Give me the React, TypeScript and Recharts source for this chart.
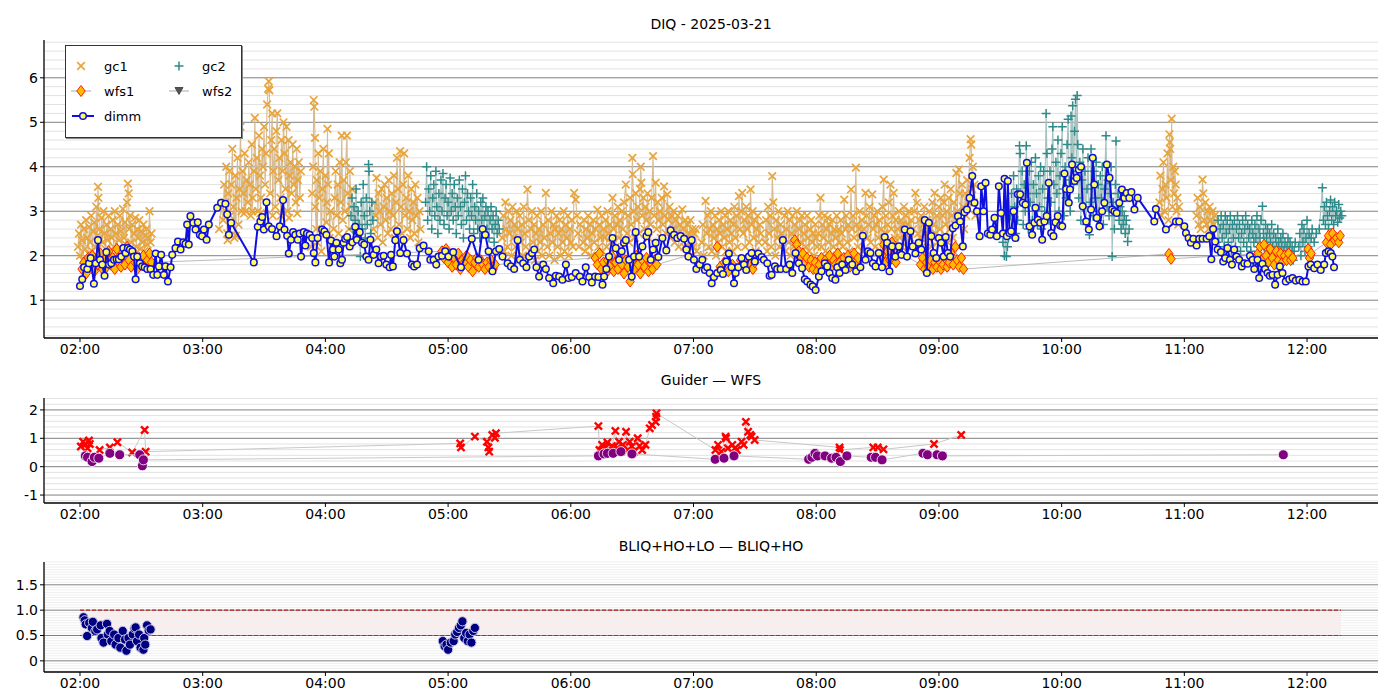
import React from 'react';
import { ScatterChart, Scatter, XAxis, YAxis, ReferenceLine, ReferenceArea } from 'recharts';

// time in minutes after 00:00 UTC, value in arcsec
type Pt = [number, number];

const hourTicks = [120, 180, 240, 300, 360, 420, 480, 540, 600, 660, 720];
const diqTicks = [1, 2, 3, 4, 5, 6];
const gwTicks = [-1, 0, 1, 2];
const bliqTicks = [0, 0.5, 1.0, 1.5];

const gc1: Pt[] = [
  // 02:00 - 02:35
  [119,2.2],[119.5,2.5],[120,2.0],[120.5,2.7],[121,2.35],[121.5,1.9],[122,2.6],[122.5,2.15],[123,2.8],[123.5,2.4],[124,2.05],[124.5,2.65],[125,2.3],[125.5,2.9],[126,2.1],[126.5,2.55],[127,2.75],[127.5,2.2],[128,3.1],[128.5,2.45],[128.8,3.55],[129,3.3],[129.5,2.6],[130,2.0],[130.5,2.85],[131,2.3],[131.5,3.0],[132,2.5],[132.5,2.15],[133,2.7],[133.5,2.35],[134,2.9],[134.5,2.05],[135,2.6],[135.5,2.4],[136,2.8],[136.5,2.2],[137,3.0],[137.5,2.5],[138,2.1],[138.5,2.7],[139,2.35],[139.5,2.9],[140,2.55],[140.5,2.15],[141,3.05],[141.5,2.4],[142,2.75],[142.5,2.25],[143,3.2],[143.4,3.62],[143.8,3.4],[144,2.6],[144.5,2.9],[145,2.3],[145.5,2.7],[146,2.05],[146.5,2.5],[147,2.85],[147.5,2.2],[148,2.6],[148.5,2.4],[149,2.8],[149.5,2.15],[150,2.55],[150.5,2.3],[151,2.7],[151.5,2.1],[152,2.45],[152.5,2.6],[153,2.25],[153.5,2.4],[154,3.0],[154.5,2.3],[155,2.5],
  // 03:08 - 03:48
  [188,2.6],[189,3.1],[190,2.8],[190.5,3.6],[191,3.2],[191.5,4.0],[192,2.5],[192.2,2.35],[192.5,3.4],[193,3.9],[193.5,2.9],[194,3.6],[194.5,4.4],[195,3.1],[195.5,2.4],[196,3.8],[196.2,2.45],[196.5,3.3],[197,4.2],[197.5,2.7],[198,3.5],[198.5,4.9],[199,3.0],[199.5,3.9],[200,3.4],[200.2,2.95],[200.5,4.3],[201,3.0],[201.5,3.7],[202,3.2],[202.5,4.1],[203,3.6],[203.5,2.9],[204,4.5],[204.2,3.0],[204.5,3.3],[205,3.9],[205.5,5.1],[206,3.5],[206.5,4.2],[207,3.0],[207.5,4.7],[208,3.8],[208.2,2.95],[208.5,3.3],[209,4.4],[209.5,4.0],[210,4.9],[210.5,3.6],[211,4.3],[211.5,5.4],[212,5.75],[212.3,5.92],[212.6,5.72],[213,3.4],[213.5,4.6],[214,5.2],[214.2,2.9],[214.5,3.9],[215,4.4],[215.5,3.1],[216,4.8],[216.5,5.2],[217,3.7],[217.5,4.2],[218,3.3],[218.2,2.9],[218.5,4.6],[219,3.9],[219.5,5.0],[220,4.3],[220.5,3.5],[221,4.9],[221.5,3.0],[222,4.6],[222.2,2.85],[222.5,3.8],[223,4.1],[223.5,3.4],[224,4.5],[224.5,3.6],[225,4.0],[225.5,3.2],[226,4.4],[226.2,2.95],[226.5,3.7],[227,4.1],[227.5,3.3],[228,3.9],
  // 03:53 - 04:13
  [233,2.2],[233.5,3.4],[234,4.0],[234.3,5.5],[234.6,5.35],[234.9,4.65],[235,3.1],[235.5,2.6],[235.8,3.7],[236,2.3],[236.5,4.3],[237,3.3],[237.5,3.9],[238,2.1],[238.5,3.5],[239,4.4],[239.5,2.5],[240,3.8],[240.5,2.75],[240.8,3.2],[241,4.85],[241.3,3.6],[241.7,4.3],[242,2.4],[242.5,3.0],
  [244,2.6],[244.5,3.3],[245,3.9],[245.5,2.9],[246,3.6],[246.5,2.5],[247,4.1],[247.5,3.2],[248,4.7],[248.5,2.8],[249,3.7],[249.5,3.0],[250,4.1],[250.5,4.7],[251,3.4],[251.5,2.6],[252,3.9],[252.5,3.1],[253,3.5],
  // 04:23 - 04:47
  [263.5,2.6],[264,3.2],[264.5,2.9],[265,3.75],[265.5,2.4],[266,3.4],[266.5,3.0],[267,2.7],[267.5,3.5],[268,2.3],[268.5,3.1],[269,3.6],[269.5,2.8],[270,3.3],[270.5,2.5],[271,3.7],[271.5,3.0],[272,2.6],[272.5,3.4],[273,2.9],[273.5,3.8],[274,2.4],[274.5,3.2],[275,4.2],[275.5,3.5],[276,2.7],[276.5,4.35],[277,3.1],[277.5,2.5],[278,3.6],[278.5,4.3],[279,2.9],[279.5,3.3],[280,2.6],[280.5,3.8],[281,3.0],[281.5,2.4],[282,3.5],[282.5,2.8],[283,3.2],[283.5,2.5],[284,3.6],[284.5,2.9],[285,3.3],[285.5,2.3],[286,3.0],[286.5,2.6],
  // 05:26 - 06:05
  [326.5,2.4],[327,2.9],[327.5,2.1],[328,3.2],[328.5,2.6],[329,2.2],[329.5,3.0],[330,2.5],[330.5,2.8],[331,2.0],[331.5,3.1],[332,2.4],[332.5,2.7],[333,2.2],[333.5,3.0],[334,2.6],[334.5,1.9],[335,2.9],[335.5,2.3],[336,2.7],[336.5,2.0],[337,3.1],[337.5,2.5],[338,2.2],[338.8,3.49],[339.5,2.8],[340,2.0],[340.5,2.6],[341,3.0],[341.5,2.3],[342,2.7],[342.5,1.9],[343,2.5],[343.5,2.9],[344,2.1],[344.5,2.6],[345,2.3],[345.5,3.0],[346,2.0],[346.5,2.7],[347,2.4],[347.8,3.41],[348.5,2.2],[349,2.8],[349.5,2.0],[350,2.5],[350.5,3.0],[351,2.3],[351.5,2.7],[352,1.9],[352.5,2.6],[353,2.9],[353.5,2.2],[354,2.5],[354.5,2.8],[355,2.0],[355.5,2.6],[356,2.3],[356.5,3.0],[357,2.1],[357.5,2.7],[358,2.4],[358.5,2.9],[359,2.0],[359.5,2.6],[360,2.3],[360.5,2.8],[361,2.2],[361.6,3.41],[362.4,3.26],[363,2.9],[363.5,2.5],[364,2.2],[364.5,2.7],
  // 06:06 - 07:02
  [366,2.3],[366.5,2.8],[367,2.1],[367.5,2.6],[368,2.4],[368.5,2.9],[369,2.2],[369.5,2.7],[370,2.0],[370.5,2.5],[371,2.8],[371.5,2.3],[372,2.6],[373,3.03],[373.5,2.2],[374,2.7],[374.5,2.4],[375,2.9],[375.5,2.1],[376,2.6],[376.5,2.4],[377,2.8],[377.5,2.2],[378,3.0],[378.5,2.5],[379,2.7],[379.5,2.3],[380.4,3.3],[381,2.6],[381.5,2.9],[382,2.2],[382.5,2.7],[383,3.1],[383.5,2.4],[384,2.8],[384.5,2.1],[385,3.0],[385.5,2.6],[386,3.2],[386.9,3.6],[387.5,2.5],[388,2.9],[388.5,2.3],[389,3.3],[389.5,2.7],[390.1,4.2],[390.3,3.83],[390.8,3.0],[391.3,2.4],[391.8,3.4],[392.3,2.8],[392.8,3.1],[393.3,2.5],[393.8,3.5],[394.2,4.0],[394.5,3.64],[395,2.9],[395.5,3.3],[396,2.6],[396.5,3.1],[397,2.8],[397.5,3.4],[398,2.4],[398.5,3.0],[399,2.7],[399.5,3.3],[400.2,4.24],[400.8,2.9],[401.5,3.64],[402,2.6],[402.5,3.2],[403,2.8],[403.5,3.0],[404,2.4],[404.5,3.3],[405,2.7],[405.6,3.56],[406,2.9],[406.5,2.5],[407.2,3.38],[407.8,2.8],[408.3,3.1],[408.8,2.4],[409.3,2.9],[409.8,2.6],[410.3,3.0],[410.8,2.3],[411.3,2.8],[411.8,2.5],[412.3,2.9],[412.8,2.2],[413.3,2.7],[413.8,2.4],[414.5,3.04],[415,2.6],[415.5,2.2],[416,2.8],[416.5,2.4],[417,2.7],[417.5,2.1],[418,2.5],[418.5,2.8],[419,2.3],[419.5,2.6],[420,2.2],[420.5,2.5],[421,2.6],[421.5,2.1],
  // 07:04 - 07:33
  [424,2.3],[424.5,2.7],[425,2.0],[425.9,3.23],[426.5,2.5],[427,2.9],[427.5,2.2],[428,2.6],[428.5,3.0],[429,2.1],[429.5,2.7],[430,2.4],[430.5,2.9],[431,2.0],[431.5,2.6],[432,2.3],[432.5,2.8],[433,2.5],[433.5,3.0],[434,2.2],[434.5,2.7],[435,2.4],[435.5,2.9],[436,2.1],[436.5,2.6],[437,3.0],[437.5,2.3],[438,2.8],[438.5,2.5],[439,2.1],[439.5,2.7],[440,3.1],[440.5,2.4],[441,2.9],[441.5,2.2],[442.2,3.34],[442.8,2.6],[443.3,3.0],[443.8,3.41],[444.3,2.5],[444.8,2.8],[445.3,2.2],[445.8,3.1],[446.3,2.6],[446.8,2.9],[447.3,2.3],[447.9,3.49],[448.4,2.7],[448.9,3.0],[449.4,2.4],[449.9,2.8],[450.4,2.1],[450.9,2.6],[451.4,2.9],[451.9,2.3],[452.4,2.7],[452.9,2.5],
  // 07:35 - 08:01
  [455,2.3],[455.5,2.8],[456,2.1],[456.5,3.1],[457,2.5],[457.5,2.9],[458,2.2],[458.5,3.79],[459,3.2],[459.5,2.6],[460,2.0],[460.5,2.8],[461,2.4],[461.5,3.0],[462,2.2],[462.5,2.7],[463,2.5],
  [464,2.4],[464.5,2.9],[465,2.1],[465.5,2.6],[466,3.0],[466.5,2.3],[467,2.8],[467.5,2.0],[468,2.5],[468.5,2.9],[469,2.2],[469.5,2.7],[470,2.4],[470.5,3.0],[471,2.1],[471.5,2.6],[472,2.8],[472.5,2.3],[473,2.9],[473.5,2.0],[474,2.5],[474.5,2.7],[475,2.2],[475.5,2.9],[476,2.4],[476.5,2.1],[477,2.6],[477.5,2.8],[478,2.3],[478.5,2.5],[479,2.0],[479.5,2.7],[480,2.4],[480.5,2.2],
  // 08:01 - 08:50
  [481,2.5],[481.5,2.9],[482.1,3.3],[482.6,2.2],[483,2.7],[483.5,2.4],[484,2.9],[484.5,2.1],[485,2.6],[485.6,2.85],[486,2.3],[486.5,2.7],[487,2.0],[487.5,2.5],[488,2.8],[488.5,2.2],[489,2.6],[489.5,2.4],[490,2.9],[490.5,2.1],[491,2.6],[491.5,2.3],[492,2.8],[492.5,2.5],[493,2.2],[493.7,3.26],[494.2,2.6],[494.7,2.9],[495.2,2.3],[495.7,2.7],[496.2,2.1],[497,3.49],[497.5,2.6],[498,2.9],[498.5,2.4],[499.4,3.98],[499.8,2.7],[500.3,2.2],[500.8,2.6],[501.3,3.0],[501.8,2.4],[502.3,2.8],[502.8,2.1],[503.3,2.6],[504.1,3.41],[504.6,2.9],[505.1,2.4],[505.6,2.7],[506.1,3.1],[506.6,2.3],[507.4,3.38],[507.9,2.6],[508.4,2.9],[508.9,2.2],[509.4,2.7],[509.9,3.0],[510.4,2.4],[510.9,2.8],[511.4,2.1],[511.9,2.6],[512.4,3.1],[513,3.71],[513.5,2.5],[514,2.9],[514.5,2.3],[515,2.7],[515.5,3.2],[516.3,3.6],[516.8,2.6],[517.3,2.9],[517.9,3.41],[518.4,2.4],[518.9,2.8],[519.4,2.2],[519.9,2.6],[520.4,3.0],[520.9,2.4],[521.4,2.8],[521.9,2.2],[522.4,2.7],[522.9,3.1],[523.4,2.5],[523.9,2.9],[524.4,2.3],[524.9,2.7],[525.4,3.0],[525.9,2.4],[526.4,2.8],[526.9,2.2],[527.4,2.6],[527.9,3.0],[528.5,3.41],[529.3,3.19],[529.8,2.5],[530.3,2.8],
  // 08:50 - 09:18
  [530.8,2.4],[531.3,2.9],[531.8,2.2],[532.3,2.7],[532.8,3.1],[533.3,2.5],[533.8,2.1],[534.3,2.8],[534.8,2.4],[535.3,3.0],[535.8,2.6],[536.3,2.2],[536.8,3.2],[537.3,2.7],[537.9,3.41],[538.4,2.5],[538.9,2.9],[539.4,2.3],[539.9,3.1],[540.4,2.6],[540.9,3.3],[541.4,2.4],[541.9,2.9],[542.4,3.2],[542.8,3.6],[543.3,2.7],[543.8,3.0],[544.3,2.3],[544.8,3.3],[545.3,2.6],[545.8,3.5],[546.3,2.9],[546.8,2.4],[547.3,3.2],[547.8,2.7],[548.5,3.86],[549,3.0],[549.8,3.94],[550.3,3.4],[550.8,2.8],[551.3,3.6],[551.8,3.1],[552.3,2.6],[552.8,3.4],[553.3,2.9],[553.8,3.7],[554.3,3.2],[555,4.2],[555.5,4.62],[555.8,4.5],[556.2,3.5],[556.6,4.0],[557,3.2],[557.4,3.6],[557.8,2.9],
  // 10:48 - 10:58
  [647.8,3.2],[648.3,3.8],[648.8,2.9],[649.3,3.5],[649.8,4.1],[650.3,3.0],[650.8,3.6],[651.3,3.3],[651.8,4.3],[652.3,2.8],[652.7,4.73],[652.9,4.55],[653.1,4.4],[653.4,3.7],[653.8,5.08],[654.2,3.1],[654.6,4.0],[655,3.4],[655.4,3.9],[655.8,3.6],[656.2,3.0],[656.6,3.3],[657,2.7],[657.4,3.1],
  // 11:06 - 11:15
  [666,2.9],[666.5,3.3],[667,2.7],[667.5,3.1],[668,2.6],[668.9,3.71],[669.3,3.4],[669.8,2.8],[670.3,3.2],[670.8,2.7],[671.3,3.0],[671.8,2.6],[672.3,3.1],[672.8,2.8],[673.3,2.6],[673.8,3.0],[674.3,2.7],[674.8,2.9],[675.3,2.6],
];

const gc2: Pt[] = [
  [252.5,2.9],[253,3.3],[253.5,2.6],[254,3.1],[254.5,2.8],[255,3.5],[255.5,2.5],[256,3.0],[256.5,2.7],[257.1,1.98],[257.5,3.2],[258,2.6],[258.5,3.6],[259,2.9],[259.5,2.4],[260,3.3],[260.5,2.7],[261.1,4.05],[261.3,3.9],[261.7,3.0],[262.2,2.5],[262.7,3.2],[263.2,2.8],
  [289,3.2],[289.5,4.0],[290,2.8],[290.5,3.5],[291,3.0],[291.5,3.8],[292,2.6],[292.5,3.3],[293,3.6],[293.5,2.9],[294,3.9],[294.5,3.1],[295,2.5],[295.5,3.4],[296,2.8],[296.5,3.7],[297,3.0],[297.5,3.85],[298,2.7],[298.5,3.3],[299,3.6],[299.5,2.9],[300,3.2],[300.5,2.6],[301,3.75],[301.5,3.0],[302,3.4],[302.5,2.8],[303,3.6],[303.5,3.1],[304,2.5],[304.5,3.3],[305,2.9],[305.5,3.7],[306,3.1],[306.5,2.7],[307,3.5],[307.5,2.4],[308,3.2],[308.5,3.8],[309,2.8],[309.5,3.4],[310,3.0],[310.5,2.6],[311,3.3],[311.5,2.9],[312,3.6],[312.5,2.5],[313,3.1],[313.5,2.8],[314,3.4],[314.5,2.6],[315,3.0],[315.5,2.4],[316,3.2],[316.5,2.8],[317,3.3],[317.5,2.5],[318,2.9],[318.5,3.1],[319,2.6],[319.5,3.0],[320,2.4],[320.5,2.8],[321,3.1],[321.5,2.6],[322,2.9],[322.5,2.3],[323,2.7],[323.5,3.0],[324,2.5],[324.5,2.8],[325,2.6],
  [571.3,2.3],[572,2.0],[572.5,2.5],[573,1.98],[573.5,2.2],[574,2.4],[575,2.9],[575.5,3.4],[576,2.6],[576.5,3.8],[577,3.1],[577.5,2.5],[578,3.5],[578.5,2.8],[579.4,4.47],[579.7,4.3],[580.2,3.2],[580.7,3.9],[581.2,2.7],[581.7,3.6],[582.2,3.0],[582.7,4.47],[583.2,3.4],[583.7,2.6],[584.2,3.9],[584.7,3.2],[585.2,4.1],[585.7,2.8],[586.2,3.6],[586.7,3.0],[587.2,4.2],[587.7,3.4],[588.2,2.7],[588.7,3.8],[589.2,3.1],[589.7,4.0],[590.2,2.6],[590.7,3.5],[591.2,3.9],[591.7,3.0],[592.4,5.2],[592.8,4.3],[593.3,3.3],[593.8,2.8],[594.3,3.9],[594.8,3.2],[595.3,4.4],[595.7,4.9],[596.2,3.6],[596.7,2.7],[597.2,4.1],[597.7,3.4],[598.2,4.6],[598.7,3.0],[599.2,3.8],[599.7,4.3],[600.3,4.9],[600.7,3.5],[601.2,2.9],[601.7,4.0],[602.2,3.3],[602.7,4.5],[603.2,5.07],[603.7,3.7],[604.2,3.0],[604.6,5.14],[605,4.2],[605.4,5.37],[605.8,3.6],[606.3,4.8],[606.8,5.52],[607.2,3.9],[607.6,5.6],[607.9,4.5],[608.4,3.3],[608.9,4.1],[609.4,2.8],[609.9,3.7],[610.4,4.4],[610.9,3.1],[611.4,3.9],[611.9,2.7],[612.4,3.5],[612.9,4.2],[613.6,2.47],[614,3.2],[614.4,4.4],[614.9,3.6],[615.4,2.9],[615.9,3.9],[616.4,3.3],[616.9,4.1],[617.4,2.8],[617.9,3.6],[618.4,3.0],[618.9,3.8],[619.4,3.3],[619.9,4.0],[620.4,2.7],[620.9,3.5],[621.7,4.7],[622.2,3.1],[622.7,3.7],[623.2,2.9],[623.7,3.4],[624.2,4.0],[624.7,1.98],[625.2,3.2],[625.8,2.6],[626.3,3.6],[626.6,4.58],[627.1,3.0],[627.6,3.4],[628.1,2.8],[628.6,3.1],[629.1,2.6],[629.6,3.0],[630.1,2.7],[630.6,2.9],[631.1,2.5],[631.6,2.8],[632.3,2.32],[633,2.6],
  [676,2.3],[676.5,2.8],[677,2.1],[677.5,2.6],[678,2.9],[678.5,2.4],[679,2.7],[679.5,2.2],[680,2.9],[680.5,2.5],[681,2.8],[681.5,2.3],[682,2.6],[682.5,2.9],[683,2.1],[683.5,2.7],[684,2.4],[684.5,2.8],[685,2.2],[685.5,2.6],[686,2.9],[686.5,2.4],[687,2.7],[687.5,2.1],[688,2.5],[688.5,2.8],[689,2.3],[689.5,2.6],[690,2.9],[690.5,2.2],[691,2.7],[691.5,2.4],[692,2.6],[692.5,2.1],[693,2.8],[693.5,2.5],[694,2.3],[694.5,2.7],[695,2.4],[695.5,2.9],[696,2.2],[696.5,2.6],[697,2.4],[697.5,2.8],[698.2,3.11],[698.7,2.5],[699.2,2.2],[699.7,2.7],[700.2,2.4],[700.7,2.6],[701.2,2.1],[701.7,2.5],[702.2,2.3],[702.7,2.7],[703.2,2.2],[703.7,2.5],[704.2,2.0],[704.7,2.4],[705.2,2.2],[705.7,2.6],[706.2,2.3],[706.7,2.0],[707.2,2.4],[707.7,2.2],[708.2,2.5],[708.7,2.1],[709.2,2.3],[709.7,1.95],[710.2,2.2],[710.7,2.4],[711.2,2.1],[711.7,2.3],[712.2,2.0],[712.7,2.2],[713.2,1.9],[713.7,2.1],[714.2,2.3],[716,2.2],[716.5,2.5],[717,2.0],[717.5,2.7],[718,2.3],[718.5,2.6],[719,2.1],[719.5,2.4],[720,2.8],[720.5,2.2],[721,2.5],[721.5,2.0],[722,2.4],[722.5,2.6],[723.5,2.3],[724.5,2.5],[726,2.6],[727.5,3.53],[728,2.8],[728.5,3.1],[729,2.7],[729.5,3.2],[730,2.9],[730.5,2.6],[731,3.0],[731.5,3.25],[732,2.8],[732.5,3.1],[733,2.7],[733.5,3.2],[734,2.9],[734.5,3.0],[735,2.75],[735.5,3.15],[736,2.85],[736.5,3.0],[737,2.9],
];

const wfs1: Pt[] = [
  [121,1.7],[122,1.85],[123,1.6],[124,1.95],[125,1.75],[126,2.0],[127,1.65],[128,1.9],[129,1.8],[130,2.05],[131,1.7],[132,1.9],[133,1.75],[134,2.1],[135,1.8],[136,1.95],[137,1.7],[138,2.15],[139,1.85],[140,1.75],[141,2.0],[142,1.8],[143,2.2],[144,1.9],[145,1.75],[146,2.05],[147,1.85],[148,1.7],[149,1.95],[150,1.8],[151,2.0],[152,1.75],[153,1.9],[154,2.05],[155,1.85],
  [297,2.1],[298,1.95],[299,2.15],[300,1.85],[301,2.0],[302,1.75],[303,1.95],[304,1.8],[305,2.05],[306,1.7],[307,1.9],[308,1.85],[309,2.0],[310,1.75],[311,1.9],[312,1.65],[313,1.85],[314,1.95],[315,1.75],[316,1.9],[317,1.8],[318,1.7],[319,1.85],[320,1.75],[321,1.9],[322,1.7],[323,1.8],
  [372,1.95],[373,1.8],[374,2.05],[375,1.7],[376,1.85],[377,1.6],[378,1.9],[379,1.75],[380,2.0],[381,1.65],[382,1.85],[383,1.7],[384,1.95],[385,1.8],[386,1.6],[387,1.9],[388,1.75],[389,1.42],[390,1.85],[391,1.7],[392,2.0],[393,1.8],[394,1.6],[395,1.9],[396,1.75],[397,1.95],[398,1.65],[399,1.85],[400,1.7],[401,1.9],[402,1.8],
  [431.6,2.2],[433,1.75],[435,1.85],[437,1.65],[439,1.8],[441,1.7],[443,1.9],[445,1.75],[447,1.85],[449,1.7],[450,1.85],
  [469.5,2.35],[470.5,2.25],[471.5,2.1],[472.5,1.95],[473.5,2.05],[474.5,1.85],[475.5,1.95],[476.5,1.75],[477.5,1.9],[478.5,1.7],[479.5,1.85],[480.5,1.65],[481.5,1.8],[482.5,1.95],[483.5,1.7],[484.5,1.9],[485.5,1.8],[486.5,2.0],[487.5,1.75],[488.5,1.9],[489.5,1.8],[490.5,2.05],[491.5,1.85],[492.5,1.7],[493.5,1.95],[494.5,1.8],[495.5,2.0],[496.5,1.75],[497.5,1.9],[498.5,2.05],[499.5,1.85],[500.5,1.95],
  [512,2.0],[513,2.25],[514,1.85],[515,2.1],[516,1.9],[517,2.3],[518,2.0],[519,1.85],[520,2.1],
  [531,1.8],[532,1.95],[533,1.7],[534,1.85],[535,1.75],[536,1.9],[537,1.7],[538,1.85],[539,1.75],[540,1.9],[541,1.7],[542,1.8],[543,1.95],[544,1.75],[545,1.85],[546,2.05],[547,1.8],[548,2.2],[549,1.9],[550,1.75],[551,1.95],[552,1.7],
  [652.5,2.04],[653.5,1.93],
  [696,2.05],[697,2.2],[698,1.9],[699,2.25],[700,2.0],[701,1.85],[702,2.15],[703,1.95],[704,1.8],[705,2.1],[706,1.9],[707,2.05],[708,1.85],[709,2.0],[710,1.9],[711,2.05],[712,1.9],[713,1.95],
  [720.5,2.15],[721.2,1.95],[722,2.05],
  [729.5,2.3],[730.5,2.45],[731.5,2.25],[732.5,2.5],[733.5,2.35],[734.5,2.4],[735.5,2.3],[736.2,2.45],
];

const wfs2: Pt[] = [];

const dimm: Pt[] = [
  [120,1.32],[121.1,1.47],[122,1.74],[123.6,1.7],[124.4,1.83],[125.2,1.95],[126.8,1.37],[127.7,1.83],[128.8,2.35],[129.8,1.91],[130.9,1.8],[132,1.55],[132.9,2.08],[134.2,1.8],[135.3,1.83],[136.6,1.91],[137.9,1.92],[139,1.92],[140.2,1.98],[141.2,2.17],[142.3,2.06],[143.4,2.17],[144.4,2.14],[145.6,2.1],[146.4,1.98],[147.2,1.47],[148,1.98],[149.3,1.83],[150.4,1.76],[151.6,1.74],[152.9,1.7],[154.5,1.7],[155.8,1.57],[157,2.05],[157.8,1.57],[158.6,1.76],[159.7,2.02],[161,1.57],[161.8,1.76],[163,1.42],[164.3,1.74],[165.1,2.02],[166.7,2.17],[167.9,2.32],[169.2,2.14],[170.5,2.3],[171.6,2.27],[172.4,2.7],[173.2,2.25],[174,2.89],[175.4,2.74],[176.5,2.59],[177.6,2.75],[178.6,2.47],[179.7,2.44],[180.6,2.59],[181.9,2.36],[183,2.7],[187.1,3.08],[189,3.19],[191.1,3.17],[192,2.93],[192.8,2.47],[193.9,2.74],[205,1.85],[206.9,2.65],[208.2,2.77],[209.1,2.87],[209.9,2.59],[211.2,3.2],[212.3,2.66],[213.9,2.6],[216.1,2.44],[217.7,2.66],[219.3,3.25],[220,2.59],[221.3,2.45],[222.1,2.05],[223.2,2.36],[224.2,2.53],[225.3,2.47],[226.5,2.36],[227.4,2.5],[228.1,1.98],[229.4,2.53],[230.2,2.23],[231,2.5],[232.3,2.47],[233.5,2.4],[234.3,2.06],[235.1,1.85],[236.2,2.4],[238.4,2.59],[239.5,2.55],[240.5,2.47],[241.8,1.85],[242.8,2.34],[243.7,2.14],[244.4,1.98],[245.4,2.29],[246.5,2.14],[247.3,1.83],[248.1,1.91],[248.9,2.29],[249.7,2.38],[250.6,2.42],[251.9,2.21],[253.2,2.3],[254.6,2.65],[255.4,2.36],[256.8,2.53],[257.9,2.29],[259,2.25],[260,1.98],[261.1,1.91],[262,2.36],[263.6,2.02],[264.9,2.14],[266,1.83],[267.2,1.98],[268.5,2.0],[269.8,1.8],[271.4,1.74],[272.1,2.02],[273,1.76],[274.2,2.35],[275,2.55],[276.6,2.06],[278.2,2.35],[279.9,2.05],[282.3,1.8],[283.4,1.76],[284.8,1.8],[286.1,2.17],[288,2.23],[290.5,2.1],[291.3,1.91],[292.9,1.91],[294.2,1.8],[295.3,1.98],[297,2.0],[298.6,2.1],[300.2,1.98],
  [302.5,2.08],[306.3,1.74],[311.6,2.38],[314.9,1.91],[316.9,2.6],[318.2,2.47],[319.8,2.1],[321.7,1.65],[323.4,2.1],[325,2.15],[326.6,1.98],[329.1,1.83],[330.7,1.76],[332.3,1.7],[334,2.35],[335.1,1.91],[336.7,1.83],[338.3,1.74],[339.6,1.98],[341,2.06],[342.1,2.14],[343.2,1.74],[344.5,1.53],[346.5,1.8],[347.8,1.7],[349.4,1.5],[351.4,1.38],[352.7,1.55],[354.3,1.53],[355.9,1.46],[357.6,1.8],[358.9,1.5],[360.5,1.52],[362.4,1.61],[364.4,1.53],[365.7,1.42],[367.3,1.74],[369,1.52],[370.3,1.4],[371.9,1.53],[373.5,1.52],[375.5,1.35],[376.3,1.53],[377.4,1.7],[378.7,1.98],[380.4,2.4],[382,2.17],[383.6,1.91],[384.9,2.1],[386,2.29],[386.9,2.35],[388.5,1.91],[389.8,1.53],[390.9,1.98],[391.7,2.53],[393.4,1.98],[395,2.21],[397,2.44],[397.9,2.53],[399.1,1.91],[400.2,2.14],[401.5,2.29],[402.8,1.97],[404.8,2.4],[406.7,2.12],[408.8,2.57],[410.5,2.47],[412.1,2.4],[413.7,2.44],[415.4,2.38],[416.5,2.14],[417.5,1.98],[419.1,2.35],[420.2,1.91],[421.4,1.7],[423,1.8],[424.3,1.91],[425.6,1.68],[426.7,1.74],[427.9,1.61],[428.9,1.38],[430,1.52],[431.6,1.61],[433.3,1.68],[434.4,1.59],[436,1.87],[437.3,2.05],[438.6,1.74],[439.8,1.38],[440.6,1.61],[441.9,1.74],[443.5,1.95],[444.7,1.8],[445.8,1.68],[447.1,1.98],[448.4,2.06],[450,1.87],[451.7,2.05],[453.3,1.97],[454.4,1.91],[456.1,1.83],[457.2,1.55],[458.2,1.57],[459.8,1.76],[460.9,1.7],[462.6,1.7],[463.7,2.35],[465.3,1.7],[467,1.8],[468.3,1.61],[469.9,2.06],[471.5,1.83],[473.1,1.72],[474.4,1.47],[475.6,1.42],[477.2,1.35],[478.3,1.31],[479.7,1.23],[481.3,1.53],[482.6,1.65],[484.2,1.83],[485.4,1.76],[486.5,1.61],[487.8,1.5],[489.4,1.46],[490.3,1.74],[491.4,1.61],[492.7,1.8],[494.3,1.68],[495.9,1.91],[497.6,1.8],[499.5,1.65],[501.6,1.74],[502.8,2.45],[504.1,1.91],[505.4,2.1],[506.5,2.06],[507.7,1.83],[509,1.76],[510.6,2.06],[512.2,1.74],[513.5,2.42],[514.7,2.29],[515.8,1.65],[517.1,2.21],[518.7,1.98],[520.4,2.21],[521.7,2.02],[523.3,2.59],[524.4,1.98],[526.1,2.55],[527.2,2.21],[528.5,2.05],[530.1,2.29],[531.4,2.14],[533.1,2.8],
  [534.1,1.61],[535.1,2.74],[536.3,2.44],[537.4,2.06],[538.7,1.95],[540,2.4],[541.1,2.29],[542.3,1.98],[543.3,2.42],[544.4,2.06],[545.5,1.98],[546.8,2.62],[548.1,2.68],[549.3,2.89],[550.4,2.77],[551.7,2.21],[552.5,2.98],[553.7,3.04],[555,3.3],[556.3,3.79],[557.4,3.19],[558.6,3.0],[559.9,2.44],[560.7,3.56],[561.8,3.0],[562.8,3.64],[563.9,2.5],[565.1,2.47],[566,2.59],[567.2,2.85],[568.3,2.44],[569.3,3.56],[570.4,2.96],[571.3,2.5],[572.1,3.73],[573.2,2.44],[573.7,3.68],[574.5,2.51],[575.3,2.55],[576.5,3.0],[577.4,2.4],[578.6,3.38],[579.7,3.38],[581,3.19],[582.3,3.15],[583,4.09],[584.3,2.66],[585.6,2.47],[586.7,2.74],[587.2,3.08],[588.4,2.81],[589.5,2.74],[590.5,2.36],[591.6,2.77],[592.7,2.89],[593.7,3.64],[594.9,2.51],[596,2.44],[597,2.75],[598.1,2.89],[599.3,2.68],[600.3,2.66],[601.4,3.85],[602.2,3.5],[603.5,3.19],[604.1,3.49],[605.1,4.05],[606.3,3.68],[607.4,3.75],[608.4,3.94],[609.5,4.0],[610.3,3.11],[612,2.77],[613.3,2.59],[614.4,3.04],[615.2,4.2],[616,3.6],[617.2,2.85],[618.5,2.66],[619.8,3.0],[620.9,3.19],[622.1,4.05],[623.4,3.75],[624.7,3.04],[625.8,3.0],[626.9,2.96],[628.2,3.19],[629.5,3.49],[630.7,3.3],[631.8,3.41],[633.1,3.3],[634.1,3.43],[635.6,3.04],[637.2,3.3],[645.3,2.77],[646.1,3.05],[651,2.59],[655.9,2.77],[657.5,2.77],[660,2.66],[660.8,2.51],[662.1,2.4],[663.2,2.29],[664.4,2.38],[666,2.23],[667.3,2.38],[668.9,2.38],[670.9,2.38],[672.2,2.44],[673.2,1.92],[674.1,2.6],[675.1,2.32],[676.3,2.14],[677.9,2.08],[679,1.87],[680,1.95],[681.1,2.17],[682.3,1.91],[683.3,1.8],[684.4,2.14],[685.5,1.98],[686.8,1.91],[688.1,1.76],[689.3,1.83],[690.9,1.82],[692.1,2.0],[693.4,1.91],[694.2,1.7],[695.8,1.91],[696.6,1.5],[698.2,1.82],[699.5,1.7],[700.7,1.61],[701.8,1.55],[703.1,1.57],[704.4,1.35],[705.6,1.57],[706.7,1.76],[708,1.61],[709.6,1.42],[711.3,1.47],[712.9,1.5],[714.5,1.44],[716.2,1.46],[717.8,1.42],[719.4,1.42],[720.7,1.76],[721.8,1.8],[723.5,1.72],[725.1,1.8],[726.7,1.68],[728.4,1.8],[729.2,2.06],[730.5,2.1],[731.6,2.06],[732.4,1.98],[733.2,1.74],
];

const guider: Pt[] = [
  [120.4,0.71],[121.5,0.88],[122.6,0.77],[123.7,0.65],[124.4,0.92],[124.8,0.8],[129.6,0.59],[134.6,0.68],[138.3,0.86],[145.5,0.5],[151.6,1.29],[152.1,0.53],
  [305.9,0.82],[306.3,0.68],[313.1,1.06],[319,0.88],[319.7,0.68],[320.1,0.53],[321.6,1.12],[322.9,1.02],[323.4,1.18],
  [373.5,1.43],[374,0.59],[375.3,0.77],[376.2,0.47],[377,0.68],[377.9,0.85],[379,0.53],[380.1,0.73],[381.8,1.26],[382.7,0.65],[383.6,0.88],[384.5,0.53],[385.5,0.77],[387,1.23],[387.9,0.59],[388.8,0.88],[389.9,0.71],[391,0.53],[392.7,1.0],[393.6,0.73],[394.9,0.59],[396.5,0.77],[398.6,1.35],[399.7,1.47],[401.5,1.58],[401.7,1.76],[401.9,1.88],
  [430.7,0.59],[432,0.77],[433.6,0.53],[435.7,1.06],[435.9,1.0],[436.8,0.65],[439,0.77],[440.2,0.65],[441.2,0.59],[443.5,0.88],[444.5,0.77],[445.6,1.58],[446.7,1.23],[447.8,1.12],[448.4,1.06],[449.9,0.94],
  [491.4,0.68],[491.6,0.59],[507.9,0.68],[510.1,0.68],[512.9,0.61],[537.6,0.8],[550.9,1.12],
];

const wfs: Pt[] = [
  [122.6,0.38],[123.7,0.33],[125.9,0.18],[127,0.33],[129.2,0.3],[134.6,0.47],[139.4,0.42],[149.2,0.42],[150.5,0.03],[151,0.24],
  [373.5,0.38],[376.2,0.45],[377.9,0.47],[380.7,0.47],[384.5,0.53],[389.9,0.45],
  [430.6,0.26],[434.9,0.3],[439.8,0.38],
  [476.3,0.26],[477.9,0.33],[479.4,0.47],[480.6,0.38],[484.3,0.38],[487.5,0.3],[489.7,0.33],[491.8,0.18],[495,0.38],
  [506.9,0.33],[509,0.33],[512.2,0.24],
  [532.2,0.47],[534.4,0.42],[539.1,0.42],[541.7,0.38],
  [708.4,0.42],
];

const bliq: Pt[] = [
  [121.7,0.86],[122.3,0.8],[122.8,0.72],[123.5,0.49],[124.5,0.75],[125.8,0.65],[126.3,0.77],[127.5,0.59],[128.4,0.62],[130.1,0.7],[130.5,0.45],[131.5,0.36],[133.2,0.73],[133.6,0.52],[134.5,0.59],[135.3,0.39],[136.7,0.52],[137.4,0.32],[138.8,0.45],[139.7,0.26],[140.9,0.59],[142,0.42],[142.7,0.2],[143.7,0.45],[144.4,0.32],[145.8,0.52],[146.7,0.64],[147.2,0.66],[147.9,0.39],[148.9,0.52],[149.6,0.26],[151,0.22],[151.4,0.45],[151.9,0.32],[152.8,0.7],[153.6,0.6],[154.5,0.62],
  [297.4,0.39],[298.3,0.29],[299.2,0.32],[300,0.22],[301.3,0.36],[302.7,0.39],[303.5,0.52],[304.4,0.57],[305.3,0.65],[306.2,0.7],[307,0.78],[307.9,0.45],[308.8,0.55],[309.6,0.39],[310.5,0.52],[311.4,0.36],[312.3,0.59],[313.1,0.65],
];

const bliqBand = { lo: 0.5, hi: 1.0, start: 120, end: 736.6 };

const X_DOMAIN: [number, number] = [102.4, 754.7];
const FONT = 'DejaVu Sans, sans-serif';

const pts = (a: Pt[]) => a.map(([t, v]) => ({ t, v }));
const steps = (a: number, b: number, s: number) => {
  const out: number[] = [];
  for (let i = 0; a + i * s <= b + 1e-9; i++) out.push(+(a + i * s).toFixed(3));
  return out;
};
const hhmm = (m: number) => `${String(Math.floor(m / 60)).padStart(2, '0')}:${String(Math.round(m % 60)).padStart(2, '0')}`;

// joins consecutive points but breaks the path across time gaps (in px)
const gapLine = (color: string, width: number, maxGap = 8) => (p: any) => {
  const ps: { x: number; y: number }[] = p.points || [];
  let d = '';
  ps.forEach((q, i) => {
    const brk = i === 0 || q.x - ps[i - 1].x > maxGap;
    d += `${brk ? 'M' : 'L'}${q.x},${q.y}`;
  });
  return <path d={d} stroke={color} strokeWidth={width} fill="none" />;
};

// marker shapes
const XMark = ({ cx, cy, color = '#e8a53c', r = 3.8, w = 1.7 }: any) => (
  <path d={`M${cx - r},${cy - r}L${cx + r},${cy + r}M${cx - r},${cy + r}L${cx + r},${cy - r}`} stroke={color} strokeWidth={w} fill="none" />
);
const PlusMark = ({ cx, cy }: any) => (
  <path d={`M${cx - 4.5},${cy}L${cx + 4.5},${cy}M${cx},${cy - 4.5}L${cx},${cy + 4.5}`} stroke="#2f8a8a" strokeWidth={1.5} fill="none" />
);
const Diamond = ({ cx, cy }: any) => (
  <path d={`M${cx},${cy - 5.5}L${cx + 4.2},${cy}L${cx},${cy + 5.5}L${cx - 4.2},${cy}Z`} fill="#ffbb00" stroke="#ff2000" strokeWidth={1} />
);
const TriDown = ({ cx, cy }: any) => (
  <path d={`M${cx - 4},${cy - 3.5}L${cx + 4},${cy - 3.5}L${cx},${cy + 3.5}Z`} fill="#555" stroke="#333" strokeWidth={0.8} />
);
const DimmDot = ({ cx, cy }: any) => <circle cx={cx} cy={cy} r={3.3} fill="#ffff5a" stroke="#1010dd" strokeWidth={1.5} />;
const RedX = (p: any) => <XMark {...p} color="#ff0000" r={3.6} w={2.4} />;
const PurpleDot = ({ cx, cy }: any) => <circle cx={cx} cy={cy} r={5} fill="#800080" stroke="#fff" strokeWidth={0.8} />;
const NavyDot = ({ cx, cy }: any) => <circle cx={cx} cy={cy} r={4.6} fill="#000080" stroke="#c8c8e8" strokeWidth={1} />;

const axisProps = {
  axisLine: { stroke: '#000', strokeWidth: 1.3 },
  tickLine: { stroke: '#000' },
  tickSize: 4,
  tick: { fontSize: 14, fill: '#000', fontFamily: FONT },
};

function grid(minor: number[], major: number[], minorColor = '#e2e2e2') {
  return [
    ...minor.map((y) => <ReferenceLine key={`mi${y}`} y={y} stroke={minorColor} strokeWidth={1} />),
    ...major.map((y) => <ReferenceLine key={`ma${y}`} y={y} stroke="#808080" strokeWidth={1} />),
  ];
}

function xAxis() {
  return (
    <XAxis
      type="number"
      dataKey="t"
      domain={X_DOMAIN}
      ticks={hourTicks}
      tickFormatter={hhmm}
      allowDataOverflow
      height={25}
      {...axisProps}
    />
  );
}

const Title = ({ top, children }: any) => (
  <div style={{ position: 'absolute', left: 44, width: 1334, top, textAlign: 'center', fontSize: 14, fontFamily: FONT, color: '#000' }}>
    {children}
  </div>
);

const LegendBox = () => {
  const row = (y: number, icon: React.ReactNode, label: string, x: number) => (
    <div style={{ position: 'absolute', left: x, top: y, height: 20, display: 'flex', alignItems: 'center' }}>
      <svg width={30} height={20}>{icon}</svg>
      <span style={{ marginLeft: 8, fontSize: 13, fontFamily: FONT }}>{label}</span>
    </div>
  );
  return (
    <div style={{ position: 'absolute', left: 65, top: 45, width: 175, height: 91, background: '#fff', border: '1px solid #333', boxShadow: '1px 1px 0 #888' }}>
      {row(10, <XMark cx={15} cy={10} />, 'gc1', 0)}
      {row(10, <PlusMark cx={15} cy={10} />, 'gc2', 98)}
      {row(35, <g><line x1={5} x2={25} y1={10} y2={10} stroke="#aaa" /><Diamond cx={15} cy={10} /></g>, 'wfs1', 0)}
      {row(35, <g><line x1={5} x2={25} y1={10} y2={10} stroke="#aaa" /><TriDown cx={15} cy={10} /></g>, 'wfs2', 98)}
      {row(60, <g><line x1={6} x2={28} y1={10} y2={10} stroke="#1010dd" strokeWidth={2} /><DimmDot cx={17} cy={10} /></g>, 'dimm', 0)}
    </div>
  );
};

export default function App() {
  return (
    <div style={{ position: 'absolute', left: 0, top: 0, width: 1400, height: 700, background: '#fff', fontFamily: FONT }}>
      <Title top={16}>DIQ - 2025-03-21</Title>
      <div style={{ position: 'absolute', left: 0, top: 0 }}>
        <ScatterChart width={1400} height={365} margin={{ top: 40, right: 22, left: 14, bottom: 2 }}>
          {xAxis()}
          <YAxis type="number" dataKey="v" domain={[0.15, 6.85]} ticks={diqTicks} allowDataOverflow width={30} {...axisProps} />
          {grid(steps(0.2, 6.8, 0.2).filter((v) => Math.abs(v - Math.round(v)) > 0.01), diqTicks)}
          <Scatter name="gc1" data={pts(gc1)} shape={<XMark />} line={gapLine('#d6bb92', 1.1)} isAnimationActive={false} />
          <Scatter name="gc2" data={pts(gc2)} shape={<PlusMark />} line={gapLine('#a6c2bf', 1.1)} isAnimationActive={false} />
          <Scatter name="wfs1" data={pts(wfs1)} shape={<Diamond />} line={{ stroke: '#aaaaaa', strokeWidth: 0.8 }} isAnimationActive={false} />
          <Scatter name="wfs2" data={pts(wfs2)} shape={<TriDown />} isAnimationActive={false} />
          <Scatter name="dimm" data={pts(dimm)} shape={<DimmDot />} line={{ stroke: '#1010dd', strokeWidth: 2 }} isAnimationActive={false} />
        </ScatterChart>
      </div>
      <LegendBox />

      <Title top={372}>Guider — WFS</Title>
      <div style={{ position: 'absolute', left: 0, top: 370 }}>
        <ScatterChart width={1400} height={160} margin={{ top: 28, right: 22, left: 14, bottom: 2 }}>
          {xAxis()}
          <YAxis type="number" dataKey="v" domain={[-1.28, 2.42]} ticks={gwTicks} allowDataOverflow width={30} {...axisProps} />
          {grid(steps(-1.2, 2.4, 0.2).filter((v) => Math.abs(v - Math.round(v)) > 0.01), gwTicks)}
          <Scatter name="guider" data={pts(guider)} shape={<RedX />} line={{ stroke: '#c8c8c8', strokeWidth: 1 }} isAnimationActive={false} />
          <Scatter name="wfs" data={pts(wfs)} shape={<PurpleDot />} line={{ stroke: '#c8c8c8', strokeWidth: 1 }} isAnimationActive={false} />
        </ScatterChart>
      </div>

      <Title top={538}>BLIQ+HO+LO — BLIQ+HO</Title>
      <div style={{ position: 'absolute', left: 0, top: 535 }}>
        <ScatterChart width={1400} height={165} margin={{ top: 27, right: 22, left: 14, bottom: 3 }}>
          {xAxis()}
          <YAxis
            type="number"
            dataKey="v"
            domain={[-0.22, 1.95]}
            ticks={bliqTicks}
            tickFormatter={(v: number) => (v === 0 ? '0' : v.toFixed(1))}
            allowDataOverflow
            width={30}
            {...axisProps}
          />
          {grid(steps(-0.2, 1.95, 0.05).filter((v) => Math.abs(v * 2 - Math.round(v * 2)) > 0.01), bliqTicks, '#efefef')}
          <ReferenceArea x1={bliqBand.start} x2={bliqBand.end} y1={bliqBand.lo} y2={bliqBand.hi} fill="#f6c8c8" fillOpacity={0.3} stroke="none" />
          <ReferenceLine segment={[{ x: bliqBand.start, y: bliqBand.hi }, { x: bliqBand.end, y: bliqBand.hi }]} stroke="#c02020" strokeDasharray="4 2" strokeWidth={1.2} />
          <ReferenceLine segment={[{ x: bliqBand.start, y: bliqBand.lo }, { x: bliqBand.end, y: bliqBand.lo }]} stroke="#c02020" strokeDasharray="4 2" strokeWidth={1.2} />
          <Scatter name="bliq" data={pts(bliq)} shape={<NavyDot />} isAnimationActive={false} />
        </ScatterChart>
      </div>
    </div>
  );
}
